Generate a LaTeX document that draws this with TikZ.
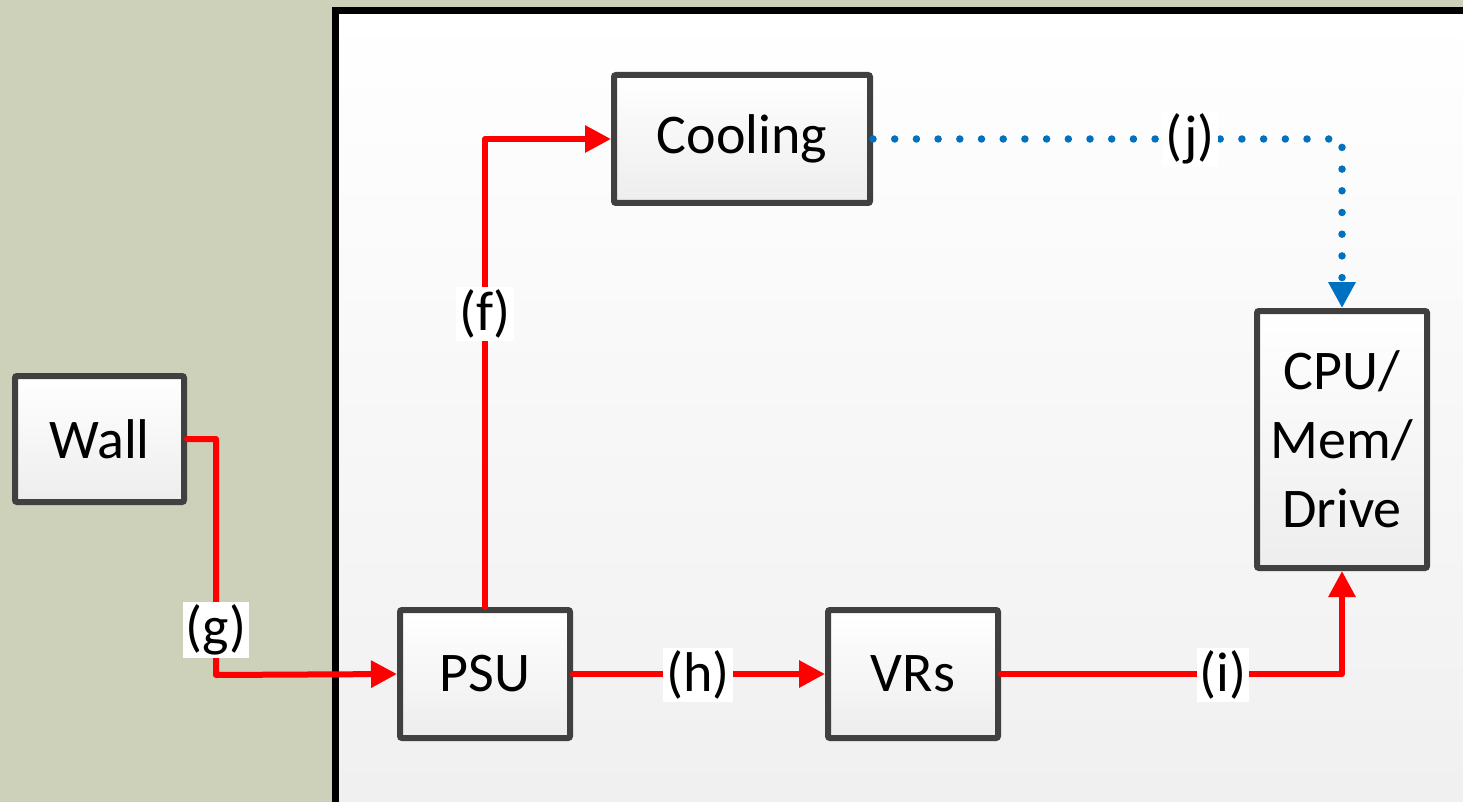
\documentclass[tikz,border=0pt]{standalone}
\usepackage{fontspec}
\setmainfont{Carlito}
\usetikzlibrary{arrows.meta}
\definecolor{bgolive}{HTML}{CDD1B9}
\definecolor{boxline}{HTML}{404040}
\definecolor{flowred}{HTML}{FF0000}
\definecolor{flowblue}{HTML}{0070C0}
\tikzset{
  blk/.style={draw=boxline, line width=6pt, rounded corners=2pt, top color=white, bottom color=black!7,
    inner sep=0pt, outer sep=3pt, align=center, font=\fontsize{56}{69}\selectfont},
  pwr/.style={draw=flowred, line width=6pt, line cap=round, line join=round,
    -{Triangle[length=26pt,width=26pt]}},
  cool/.style={draw=flowblue, line width=7.5pt, line cap=round, dash pattern=on 0pt off 21.7pt,
    -{Triangle[length=26pt,width=26pt]}},
  lbl/.style={fill=white, inner sep=3pt, font=\fontsize{56}{60}\selectfont}
}
\begin{document}
\begin{tikzpicture}[x=1pt,y=-1pt]
\useasboundingbox (0,0) rectangle (1463,802);
\fill[bgolive] (0,0) rectangle (1463,802);
\shade[top color=white, bottom color=black!6] (335.5,10.5) rectangle (1475,815);
\draw[black, line width=7pt] (1475,10.5) -- (335.5,10.5) -- (335.5,815);
% boxes
\node[blk, minimum width=169pt, minimum height=126pt] (wall) at (99.5,439) {Wall};
\node[blk, minimum width=256pt, minimum height=128pt] (cool) at (742,139) {Cooling};
\node[blk, minimum width=170pt, minimum height=128pt] (psu) at (485,674) {PSU};
\node[blk, minimum width=170pt, minimum height=128pt] (vrs) at (913,674) {VRs};
\node[blk, minimum width=170pt, minimum height=257pt] (cpu) at (1342,439.5) {CPU/\\Mem/\\Drive};
% connectors
\coordinate (gbend) at (216,675);
\draw[pwr] (wall.east) -| (gbend) -- (psu.west);
\draw[pwr] (psu.north) |- (cool.west);
\draw[pwr] (psu.east) -- (vrs.west);
\draw[pwr] (vrs.east) -| (cpu.south);
\draw[cool] (cool.east) -| (cpu.north);
% labels
\node[lbl] (g) at (216,630) {(g)};
\node[lbl] (f) at (485,314) {(f)};
\node[lbl] (h) at (698,675) {(h)};
\node[lbl] (i) at (1223,675) {(i)};
\node[lbl] (j) at (1190,139) {(j)};
\end{tikzpicture}
\end{document}
